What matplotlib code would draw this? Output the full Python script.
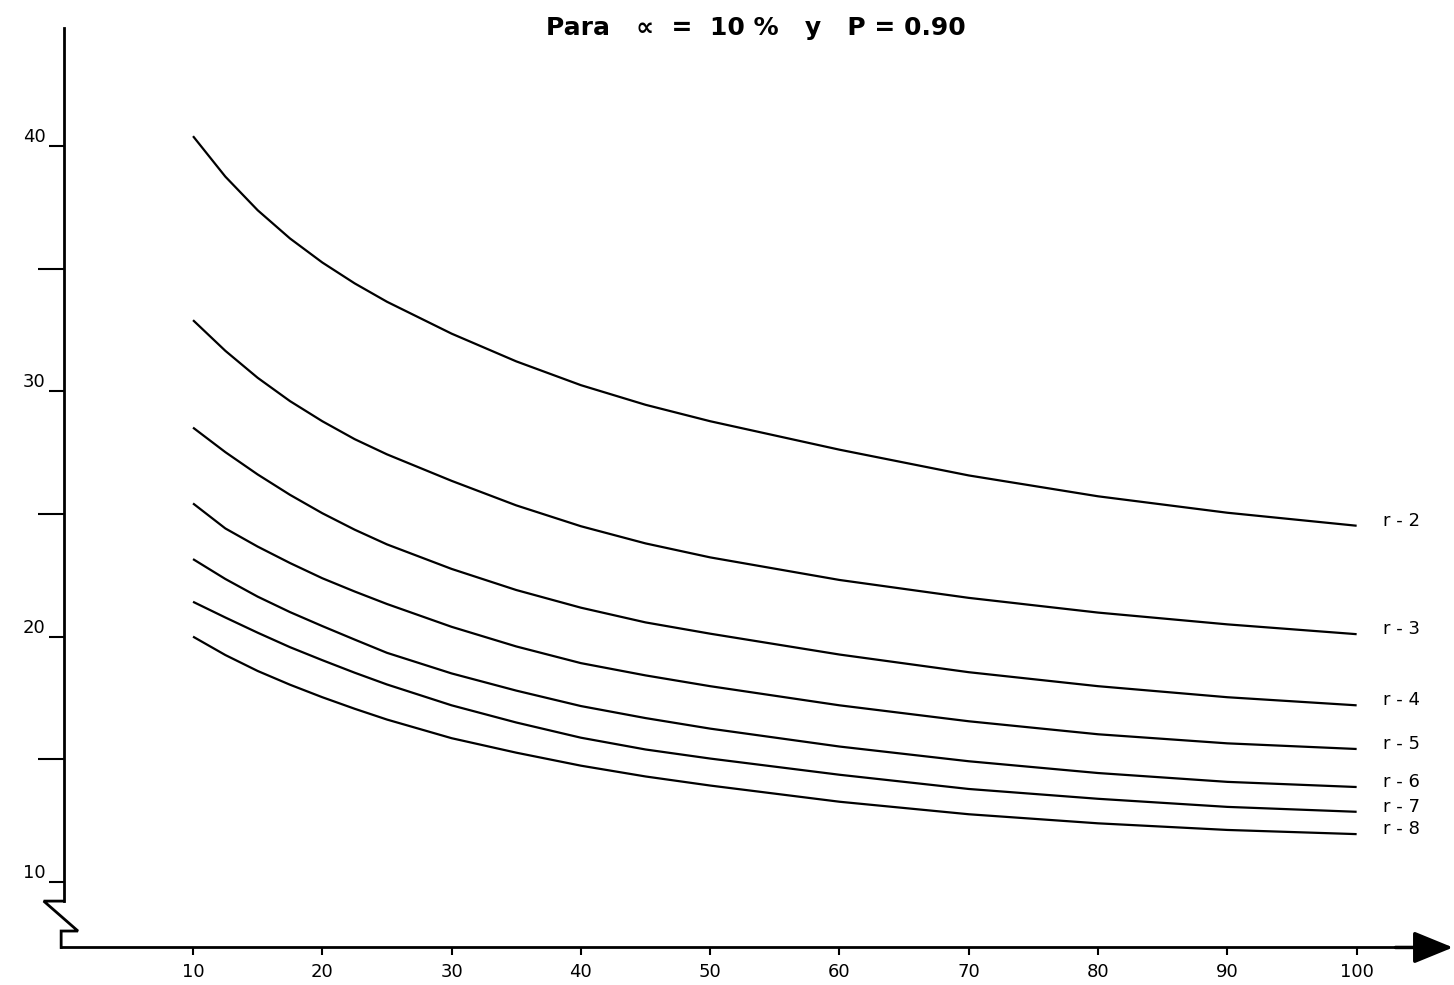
import matplotlib
matplotlib.use("Agg")
import matplotlib.pyplot as plt

# ---- data ----
n_values = [10, 12.5, 15, 17.5, 20, 22.5, 25, 30, 35, 40, 45, 50, 60, 70, 80, 90, 100]
r2 = [40.4, 38.75, 37.38, 36.23, 35.25, 34.4, 33.65, 32.35, 31.22, 30.25, 29.45, 28.78, 27.62, 26.57, 25.72, 25.05, 24.52]
r3 = [32.9, 31.65, 30.55, 29.6, 28.78, 28.05, 27.43, 26.35, 25.35, 24.5, 23.8, 23.23, 22.31, 21.58, 20.98, 20.5, 20.1]
r4 = [28.52, 27.52, 26.61, 25.78, 25.03, 24.36, 23.76, 22.76, 21.9, 21.18, 20.58, 20.12, 19.27, 18.55, 17.98, 17.53, 17.2]
r5 = [25.43, 24.41, 23.67, 23.0, 22.38, 21.84, 21.33, 20.4, 19.6, 18.92, 18.42, 17.98, 17.2, 16.55, 16.02, 15.65, 15.42]
r6 = [23.16, 22.35, 21.63, 21.0, 20.43, 19.88, 19.34, 18.5, 17.8, 17.17, 16.68, 16.25, 15.52, 14.92, 14.44, 14.08, 13.87]
r7 = [21.42, 20.78, 20.16, 19.57, 19.04, 18.53, 18.05, 17.2, 16.5, 15.88, 15.4, 15.03, 14.37, 13.79, 13.39, 13.06, 12.86]
r8 = [20.0, 19.25, 18.6, 18.04, 17.53, 17.06, 16.62, 15.86, 15.27, 14.74, 14.3, 13.93, 13.27, 12.76, 12.39, 12.12, 11.95]
series = [r2, r3, r4, r5, r6, r7, r8]
series_labels = ["r - 2", "r - 3", "r - 4", "r - 5", "r - 6", "r - 7", "r - 8"]

x_ticks = [10, 20, 30, 40, 50, 60, 70, 80, 90, 100]
x_tick_labels = ["10", "20", "30", "40", "50", "60", "70", "80", "90", "100"]
y_major = [10, 20, 30, 40]
y_major_labels = ["10", "20", "30", "40"]
y_minor = [15, 25, 35]
title = "Para   \u221d  =  10 %   y   P = 0.90"

# ---- figure ----
fig = plt.figure(figsize=(14.54, 9.85), dpi=100)
ax = fig.add_axes([0, 0, 1, 1])
ax.set_xlim(-4.93, 107.53)
ax.set_ylim(5.80, 45.95)

x_axis_level = 7.33
for s in ("top", "right"):
    ax.spines[s].set_visible(False)
ax.spines["left"].set_position(("data", 0))
ax.spines["left"].set_bounds(9.22, 44.8)
ax.spines["left"].set_linewidth(2.0)
ax.spines["bottom"].set_position(("data", x_axis_level))
ax.spines["bottom"].set_bounds(-0.2, 104.5)
ax.spines["bottom"].set_linewidth(2.0)

# axis break symbol
ax.plot([0, -1.55, 1.1, -0.2, -0.2], [9.22, 9.22, 8.0, 8.0, x_axis_level],
        color="black", lw=2.0, clip_on=False, solid_joinstyle="miter")
# arrow on x axis
ax.annotate("", xy=(107.45, x_axis_level), xytext=(103.0, x_axis_level),
            annotation_clip=False,
            arrowprops=dict(arrowstyle="-|>,head_length=1.1,head_width=0.45",
                            color="black", lw=2.5, mutation_scale=22,
                            shrinkA=0, shrinkB=0))

ax.set_xticks(x_ticks, labels=x_tick_labels)
ax.set_yticks(y_major, labels=y_major_labels)
ax.set_yticks(y_minor, minor=True)
ax.tick_params(axis="x", direction="out", length=6, width=1.5, pad=5, labelsize=13)
ax.tick_params(axis="y", which="major", direction="out", length=11, width=1.5, pad=2, labelsize=13)
ax.tick_params(axis="y", which="minor", direction="out", length=19, width=1.5)
for lbl in ax.get_yticklabels():
    lbl.set_verticalalignment("bottom")

# curves
for vals, lab in zip(series, series_labels):
    ax.plot(n_values, vals, color="black", lw=1.6, solid_capstyle="butt",
            solid_joinstyle="round")
    ax.text(n_values[-1] + 2.0, vals[-1] + 0.2, lab, ha="left", va="center",
            fontsize=13, color="black")

ax.text(0.52, 0.972, title, transform=ax.transAxes, ha="center", va="center",
        fontsize=18, fontweight="bold")

fig.savefig("out.png", dpi=100)
